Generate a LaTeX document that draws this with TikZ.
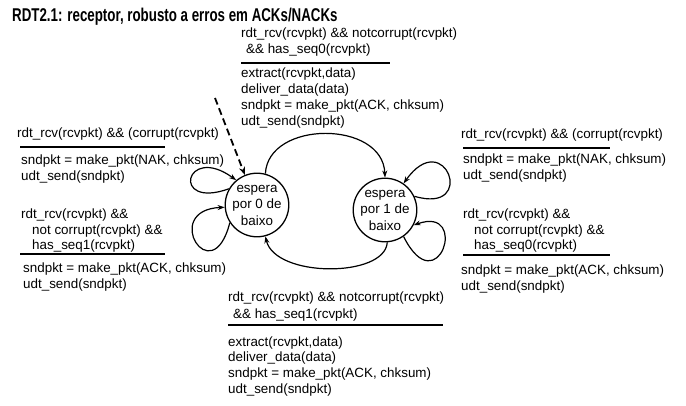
\documentclass[tikz,border=0pt]{standalone}
\usepackage{fontspec}
\setmainfont{Liberation Sans}
\newfontfamily\titlefont{Liberation Sans}[FakeStretch=0.72]
\usetikzlibrary{arrows.meta}
\begin{document}
\begin{tikzpicture}[x=1pt,y=1pt,
  txt/.style={anchor=base west,inner sep=0pt,font=\fontsize{13.4}{16}\selectfont},
  rulebar/.style={line width=2pt},
  state/.style={circle,draw,line width=1.3pt,minimum size=60pt,inner sep=0pt,align=center,font=\fontsize{13.4}{16.5}\selectfont},
  trans/.style={line width=1.2pt,-{Stealth[length=7pt,width=5pt]}},
]
\useasboundingbox (0,0) rectangle (686,405);
% title
\node[anchor=base west,inner sep=0pt,font=\titlefont\bfseries\fontsize{18.5}{21}\selectfont] (title) at (12,383) {RDT2.1: receptor, robusto a erros em ACKs/NACKs};
% states
\node[state] (L) at (257,200) {espera\\por 0 de\\baixo};
\node[state] (R) at (385,195) {espera\\por 1 de\\baixo};
% top block
\node[txt] (t1) at (241,367) {rdt\_rcv(rcvpkt) \&\& notcorrupt(rcvpkt)};
\node[txt] (t2) at (246,351) {\&\& has\_seq0(rcvpkt)};
\draw[rulebar] (241,342) -- (390,342);
\node[txt] (t3) at (241,327) {extract(rcvpkt,data)};
\node[txt] (t4) at (241,311) {deliver\_data(data)};
\node[txt] (t5) at (241,295) {sndpkt = make\_pkt(ACK, chksum)};
\node[txt] (t6) at (241,279) {udt\_send(sndpkt)};
% left block
\node[txt] (l1) at (17,267) {rdt\_rcv(rcvpkt) \&\& (corrupt(rcvpkt)};
\draw[rulebar] (20,258) -- (165,258);
\node[txt] (l2) at (21,240) {sndpkt = make\_pkt(NAK, chksum)};
\node[txt] (l3) at (21,224) {udt\_send(sndpkt)};
\node[txt] (l4) at (21,186) {rdt\_rcv(rcvpkt) \&\&};
\node[txt] (l5) at (32,171) {not corrupt(rcvpkt) \&\&};
\node[txt] (l6) at (32,155) {has\_seq1(rcvpkt)};
\draw[rulebar] (20,151) -- (165,151);
\node[txt] (l7) at (23,133) {sndpkt = make\_pkt(ACK, chksum)};
\node[txt] (l8) at (23,117) {udt\_send(sndpkt)};
% right block
\node[txt] (r1) at (461,266) {rdt\_rcv(rcvpkt) \&\& (corrupt(rcvpkt)};
\draw[rulebar] (463,257) -- (610,257);
\node[txt] (r2) at (463,241) {sndpkt = make\_pkt(NAK, chksum)};
\node[txt] (r3) at (463,225) {udt\_send(sndpkt)};
\node[txt] (r4) at (463,186) {rdt\_rcv(rcvpkt) \&\&};
\node[txt] (r5) at (474,171) {not corrupt(rcvpkt) \&\&};
\node[txt] (r6) at (474,155) {has\_seq0(rcvpkt)};
\draw[rulebar] (463,150) -- (610,150);
\node[txt] (r7) at (461,131) {sndpkt = make\_pkt(ACK, chksum)};
\node[txt] (r8) at (461,115) {udt\_send(sndpkt)};
% bottom block
\node[txt] (b1) at (228,103) {rdt\_rcv(rcvpkt) \&\& notcorrupt(rcvpkt)};
\node[txt] (b2) at (233,87) {\&\& has\_seq1(rcvpkt)};
\draw[rulebar] (228,80) -- (443,80);
\node[txt] (b3) at (228,59) {extract(rcvpkt,data)};
\node[txt] (b4) at (228,44) {deliver\_data(data)};
\node[txt] (b5) at (228,28) {sndpkt = make\_pkt(ACK, chksum)};
\node[txt] (b6) at (228,12) {udt\_send(sndpkt)};
% transitions
\draw[trans] (L.75) .. controls (268,285) and (383,285) .. (R.90);
\draw[trans] (R.-86) .. controls (385,127) and (275,127) .. (L.-75);
\coordinate (init) at (215,307);
\draw[line width=1.8pt,dash pattern=on 7pt off 4pt,-{Stealth[length=8pt,width=6pt]}] (init) -- (L.112);
% self loops
\draw[trans] (L.150) .. controls (170,195) and (185,262) .. (L.130);
\draw[trans] (L.213) .. controls (212,112) and (160,195) .. (L.184);
\draw[trans] (R.25) .. controls (478,190) and (445,280) .. (R.55);
\draw[trans] (R.-55) .. controls (438,100) and (470,200) .. (R.-28);
\end{tikzpicture}
\end{document}
